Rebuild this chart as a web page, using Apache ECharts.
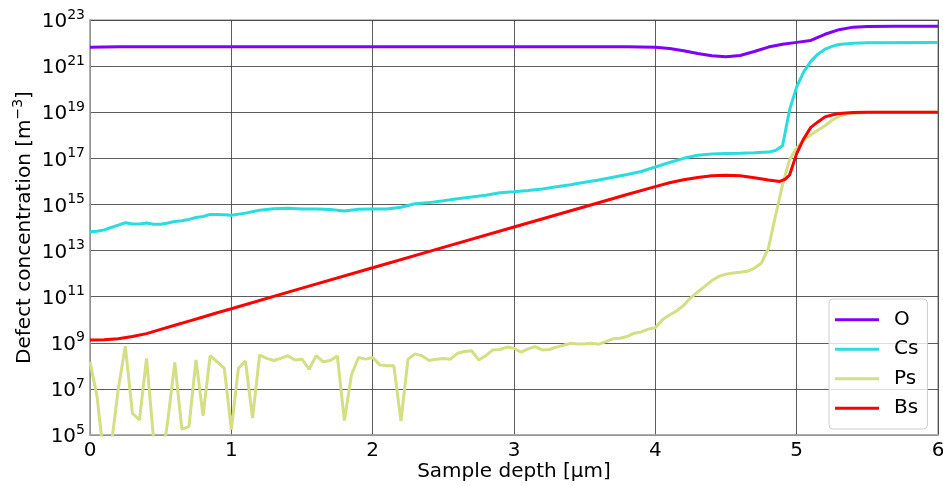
<!DOCTYPE html>
<html>
<head>
<meta charset="utf-8">
<script src="https://cdn.jsdelivr.net/npm/echarts@6/dist/echarts.min.js"></script>
<style>
html,body{margin:0;padding:0;background:#fff;}
#c{width:943px;height:486px;}
</style>
</head>
<body>
<div id="c"></div>
<script>
// Sample depth [µm] and concentrations [m^-3]
const oX = [0, 0.2, 0.5, 1, 2, 3, 3.8, 4.0, 4.1, 4.2, 4.3, 4.4, 4.5, 4.6, 4.7, 4.8, 4.9, 5.0, 5.1, 5.2, 5.3, 5.4, 5.5, 5.7, 6.0];
const oY = [6.6e21, 6.9e21, 6.9e21, 6.9e21, 6.9e21, 6.9e21, 6.9e21, 6.6e21, 5.75e21, 4.6e21, 3.55e21, 2.8e21, 2.57e21, 2.9e21, 4.3e21, 6.7e21, 8.9e21, 1.07e22, 1.3e22, 2.4e22, 3.8e22, 4.9e22, 5.25e22, 5.4e22, 5.4e22];

const csX = [0, 0.05, 0.1, 0.15, 0.2, 0.25, 0.3, 0.35, 0.4, 0.45, 0.5, 0.55, 0.6, 0.65, 0.7, 0.75, 0.8, 0.85, 0.9, 0.95, 1.0, 1.1, 1.2, 1.3, 1.4, 1.5, 1.6, 1.7, 1.8, 1.9, 2.0, 2.1, 2.2, 2.3, 2.4, 2.5, 2.6, 2.7, 2.8, 2.9, 3.0, 3.1, 3.2, 3.3, 3.4, 3.5, 3.6, 3.7, 3.8, 3.9, 4.0, 4.1, 4.2, 4.3, 4.4, 4.5, 4.6, 4.7, 4.8, 4.85, 4.9, 4.95, 5.0, 5.05, 5.1, 5.15, 5.2, 5.25, 5.3, 5.4, 5.5, 6.0];
const csY = [6.6e13, 6.9e13, 7.9e13, 1e14, 1.26e14, 1.62e14, 1.41e14, 1.41e14, 1.58e14, 1.38e14, 1.38e14, 1.58e14, 1.82e14, 1.95e14, 2.24e14, 2.7e14, 3e14, 3.7e14, 3.7e14, 3.55e14, 3.4e14, 4.2e14, 5.6e14, 6.5e14, 6.8e14, 6.3e14, 6.3e14, 6e14, 5.25e14, 6.2e14, 6.3e14, 6.3e14, 7.6e14, 1.07e15, 1.2e15, 1.45e15, 1.78e15, 2.1e15, 2.5e15, 3.2e15, 3.55e15, 4e15, 4.7e15, 5.9e15, 7.2e15, 9.1e15, 1.15e16, 1.5e16, 2e16, 2.7e16, 4.2e16, 6.6e16, 1e17, 1.35e17, 1.55e17, 1.62e17, 1.66e17, 1.74e17, 1.86e17, 2.2e17, 3.5e17, 1.26e19, 1.26e20, 5.6e20, 1.6e21, 3.3e21, 5.4e21, 7.2e21, 8.7e21, 9.8e21, 1.02e22, 1.05e22];

const psX = [0, 0.05, 0.1, 0.15, 0.2, 0.25, 0.3, 0.35, 0.4, 0.45, 0.5, 0.55, 0.6, 0.65, 0.7, 0.75, 0.8, 0.85, 0.9, 0.95, 1.0, 1.05, 1.1, 1.15, 1.2, 1.25, 1.3, 1.35, 1.4, 1.45, 1.5, 1.55, 1.6, 1.65, 1.7, 1.75, 1.8, 1.85, 1.9, 1.95, 2.0, 2.05, 2.1, 2.15, 2.2, 2.25, 2.3, 2.35, 2.4, 2.45, 2.5, 2.55, 2.6, 2.65, 2.7, 2.75, 2.8, 2.85, 2.9, 2.95, 3.0, 3.05, 3.1, 3.15, 3.2, 3.25, 3.3, 3.35, 3.4, 3.45, 3.5, 3.55, 3.6, 3.65, 3.7, 3.75, 3.8, 3.85, 3.9, 3.95, 4.0, 4.05, 4.1, 4.15, 4.2, 4.25, 4.3, 4.35, 4.4, 4.45, 4.5, 4.55, 4.6, 4.65, 4.7, 4.75, 4.8, 4.85, 4.9, 4.95, 5.0, 5.05, 5.1, 5.15, 5.2, 5.25, 5.3, 5.35, 5.4, 5.5, 5.6, 6.0];
const psY = [1.5e8, 4.6e6, 8e3, 3.2e4, 1e7, 7.2e8, 8.7e5, 4.5e5, 2.1e8, 6.3e4, 3.2e3, 4e5, 1.4e8, 1.8e5, 2.3e5, 1.8e8, 6.8e5, 2.75e8, 1.5e8, 7.9e7, 1.7e5, 7.9e7, 1.6e8, 5.4e5, 2.95e8, 2.1e8, 1.7e8, 2.1e8, 2.75e8, 1.8e8, 1.95e8, 7.1e7, 2.75e8, 1.5e8, 1.7e8, 2.7e8, 4.2e5, 4.1e7, 2.3e8, 1.95e8, 2.3e8, 1.1e8, 1.0e8, 1.0e8, 4e5, 1.95e8, 3.3e8, 2.7e8, 1.7e8, 1.95e8, 2.1e8, 1.95e8, 3.5e8, 4.2e8, 4.5e8, 1.8e8, 2.75e8, 4.9e8, 5.1e8, 6.5e8, 5.8e8, 3.9e8, 5.4e8, 6.8e8, 4.9e8, 5.1e8, 6.5e8, 7.8e8, 9.5e8, 8.9e8, 9.1e8, 9.5e8, 8.7e8, 1.12e9, 1.48e9, 1.58e9, 1.86e9, 2.6e9, 2.95e9, 3.9e9, 4.5e9, 1e10, 1.6e10, 2.4e10, 4.2e10, 8.9e10, 1.6e11, 2.8e11, 5e11, 7.6e11, 9.5e11, 1.07e12, 1.15e12, 1.26e12, 1.7e12, 2.8e12, 1.26e13, 3.2e14, 7.1e15, 8.9e16, 2.8e17, 6e17, 1.05e18, 1.66e18, 2.6e18, 4.5e18, 6.6e18, 8.3e18, 9.1e18, 9.8e18, 1e19, 1e19];

const bsX = [0, 0.1, 0.2, 0.3, 0.4, 0.5, 0.6, 0.7, 0.8, 0.9, 1.0, 1.5, 2.0, 2.5, 3.0, 3.5, 3.8, 4.0, 4.1, 4.2, 4.3, 4.4, 4.5, 4.6, 4.7, 4.8, 4.88, 4.92, 4.95, 5.0, 5.05, 5.1, 5.15, 5.2, 5.25, 5.3, 5.4, 5.5, 6.0];
const bsY = [1.32e9, 1.35e9, 1.5e9, 1.86e9, 2.5e9, 3.8e9, 5.75e9, 8.7e9, 1.32e10, 2e10, 3e10, 2.35e11, 1.8e12, 1.38e13, 1.05e14, 7.9e14, 2.7e15, 5.9e15, 8.7e15, 1.17e16, 1.48e16, 1.74e16, 1.86e16, 1.74e16, 1.45e16, 1.15e16, 1.0e16, 1.26e16, 1.9e16, 1.6e17, 7.1e17, 2.2e18, 3.8e18, 6.3e18, 7.6e18, 8.9e18, 9.8e18, 1e19, 1e19];

const seriesNames = ['O', 'Cs', 'Ps', 'Bs'];
const seriesColors = ['#8000ff', '#2adddd', '#d4de85', '#ff0000'];

function pairs(xs, ys) { return xs.map((x, i) => [x, ys[i]]); }
const allData = [pairs(oX, oY), pairs(csX, csY), pairs(psX, psY), pairs(bsX, bsY)];

const chart = echarts.init(document.getElementById('c'), null, {renderer: 'canvas'});
const FONT = 'DejaVu Sans';
chart.setOption({
  animation: false,
  backgroundColor: '#fff',
  textStyle: {fontFamily: FONT},
  grid: {left: 90, right: 5, top: 20, bottom: 51, outerBoundsMode: 'none', containLabel: false,
         show: true, borderColor: '#aaa', borderWidth: 1.5, backgroundColor: 'transparent'},
  xAxis: {
    type: 'value', min: 0, max: 6, interval: 1,
    name: 'Sample depth [µm]', nameLocation: 'middle', nameGap: 27, nameMoveOverlap: false,
    nameTextStyle: {fontFamily: FONT, fontSize: 20, color: '#000'},
    axisLine: {show: true, lineStyle: {color: '#aaa', width: 1.5}},
    axisTick: {show: false},
    axisLabel: {fontFamily: FONT, fontSize: 20, color: '#000', margin: 6},
    splitLine: {show: true, lineStyle: {color: '#333', width: 0.8}}
  },
  yAxis: {
    type: 'log', logBase: 10, min: 1e5, max: 1e23, interval: 2,
    name: '{n|Defect concentration [m}{s|−3}{n|]}', nameLocation: 'middle', nameGap: 55, nameMoveOverlap: false,
    nameTextStyle: {fontFamily: FONT, fontSize: 20, color: '#000',
      rich: {n: {fontFamily: FONT, fontSize: 20, color: '#000', verticalAlign: 'bottom', lineHeight: 24},
             s: {fontFamily: FONT, fontSize: 14, color: '#000', verticalAlign: 'top', lineHeight: 24}}},
    axisLine: {show: true, lineStyle: {color: '#aaa', width: 1.5}},
    axisTick: {show: false},
    axisLabel: {
      margin: 5, color: '#000',
      formatter: function (v) {
        const e = Math.round(Math.log10(v));
        return '{b|10}{s|' + e + '}';
      },
      rich: {
        b: {fontFamily: FONT, fontSize: 20, color: '#000', verticalAlign: 'bottom', lineHeight: 24},
        s: {fontFamily: FONT, fontSize: 14, color: '#000', verticalAlign: 'top', lineHeight: 24}
      }
    },
    splitLine: {show: true, lineStyle: {color: '#333', width: 0.8}}
  },
  legend: {
    orient: 'vertical', left: 829, top: 299,
    data: seriesNames,
    icon: 'rect', itemWidth: 44, itemHeight: 3, itemGap: 8,
    padding: [10, 9, 10, 6],
    backgroundColor: 'rgba(255,255,255,0.8)', borderColor: '#ccc', borderWidth: 1, borderRadius: 4,
    textStyle: {fontFamily: FONT, fontSize: 20, color: '#000', lineHeight: 21.5, padding: [0, 0, 0, 10]}
  },
  series: seriesNames.map((n, i) => ({
    name: n, type: 'line', data: allData[i], showSymbol: false, symbol: 'none',
    smooth: false, clip: true, color: seriesColors[i],
    lineStyle: {color: seriesColors[i], width: 3}, z: 2 + i
  }))
});
</script>
</body>
</html>
